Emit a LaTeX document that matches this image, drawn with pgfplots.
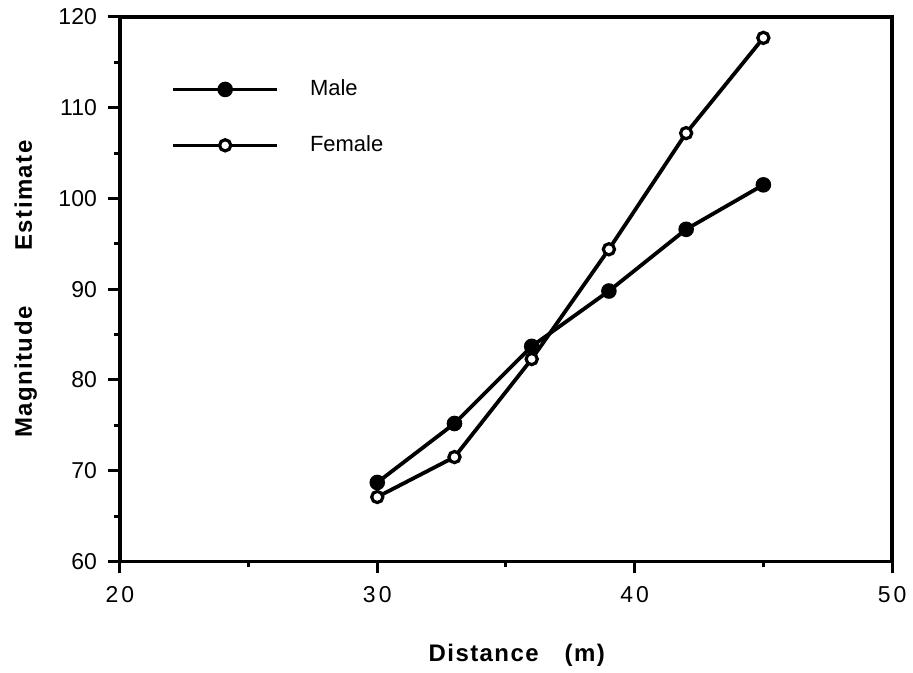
\documentclass[border=0pt]{standalone}
\usepackage{fontspec}
\setmainfont{Liberation Sans}
\newfontfamily\labelfont[LetterSpace=6]{Liberation Sans Bold}
\usepackage{pgfplots}
\pgfplotsset{compat=1.18}

% Mean magnitude estimates by distance
\pgfplotstableread{
x    y
30   68.7
33   75.2
36   83.7
39   89.8
42   96.6
45   101.5
}\maledata
\pgfplotstableread{
x    y
30   67.1
33   71.5
36   82.3
39   94.4
42   107.2
45   117.7
}\femaledata

\begin{document}
\begin{tikzpicture}
\begin{axis}[
  scale only axis,
  width=386.5pt, height=272.5pt,
  xmin=20, xmax=50, ymin=60, ymax=120,
  xtick={20,30,40,50},
  xticklabels={2\kern1.5pt0,3\kern1.5pt0,4\kern1.5pt0,5\kern1.5pt0},
  ytick={60,70,...,120},
  minor x tick num=1, minor y tick num=1,
  tick pos=left, tick align=outside,
  major tick length=6pt, minor tick length=3pt,
  every tick/.style={black, line width=1.5pt},
  axis line style={line width=1.9pt},
  /pgf/number format/assume math mode=true,
  ticklabel style={font=\fontsize{11.5}{13}\selectfont},
  xticklabel style={yshift=-3pt},
  yticklabel style={xshift=-2pt},
  xlabel={Distance\hspace{9pt} (m)},
  ylabel={Magnitude\hspace{24pt} Estimate},
  label style={font=\fontsize{12}{14}\labelfont},
  xlabel style={at={(axis description cs:0.514,-0.1835)}, anchor=base},
  ylabel style={at={(axis description cs:-0.1138,0.5)}, anchor=base},
  legend style={at={(rel axis cs:0.0673,0.8156)}, anchor=west,
    draw=none, fill=none, inner sep=0pt, outer sep=0pt,
    row sep=18.5pt, column sep=0pt,
    font=\fontsize{11}{13}\selectfont,
    nodes={inner sep=0pt, outer sep=0pt}},
  legend cell align=left,
  legend image code/.code={%
    \draw[mark repeat=2, mark phase=2, #1, line width=1.4pt]
      plot coordinates {(0pt,0pt) (26pt,0pt) (52pt,0pt)};
    \path (67.5pt,0pt);},
]
\addplot[black, line width=1.9pt, mark=*, mark size=3.4pt,
  mark options={fill=black, line width=1pt}] table {\maledata};
\addlegendentry{Male}
\addplot[black, line width=1.9pt, mark=*, mark size=2.8pt,
  mark options={fill=white, line width=1.6pt}] table {\femaledata};
\addlegendentry{Female}
\end{axis}
\path (-60pt,-55.5pt) rectangle (396.5pt,281pt);
\end{tikzpicture}
\end{document}
